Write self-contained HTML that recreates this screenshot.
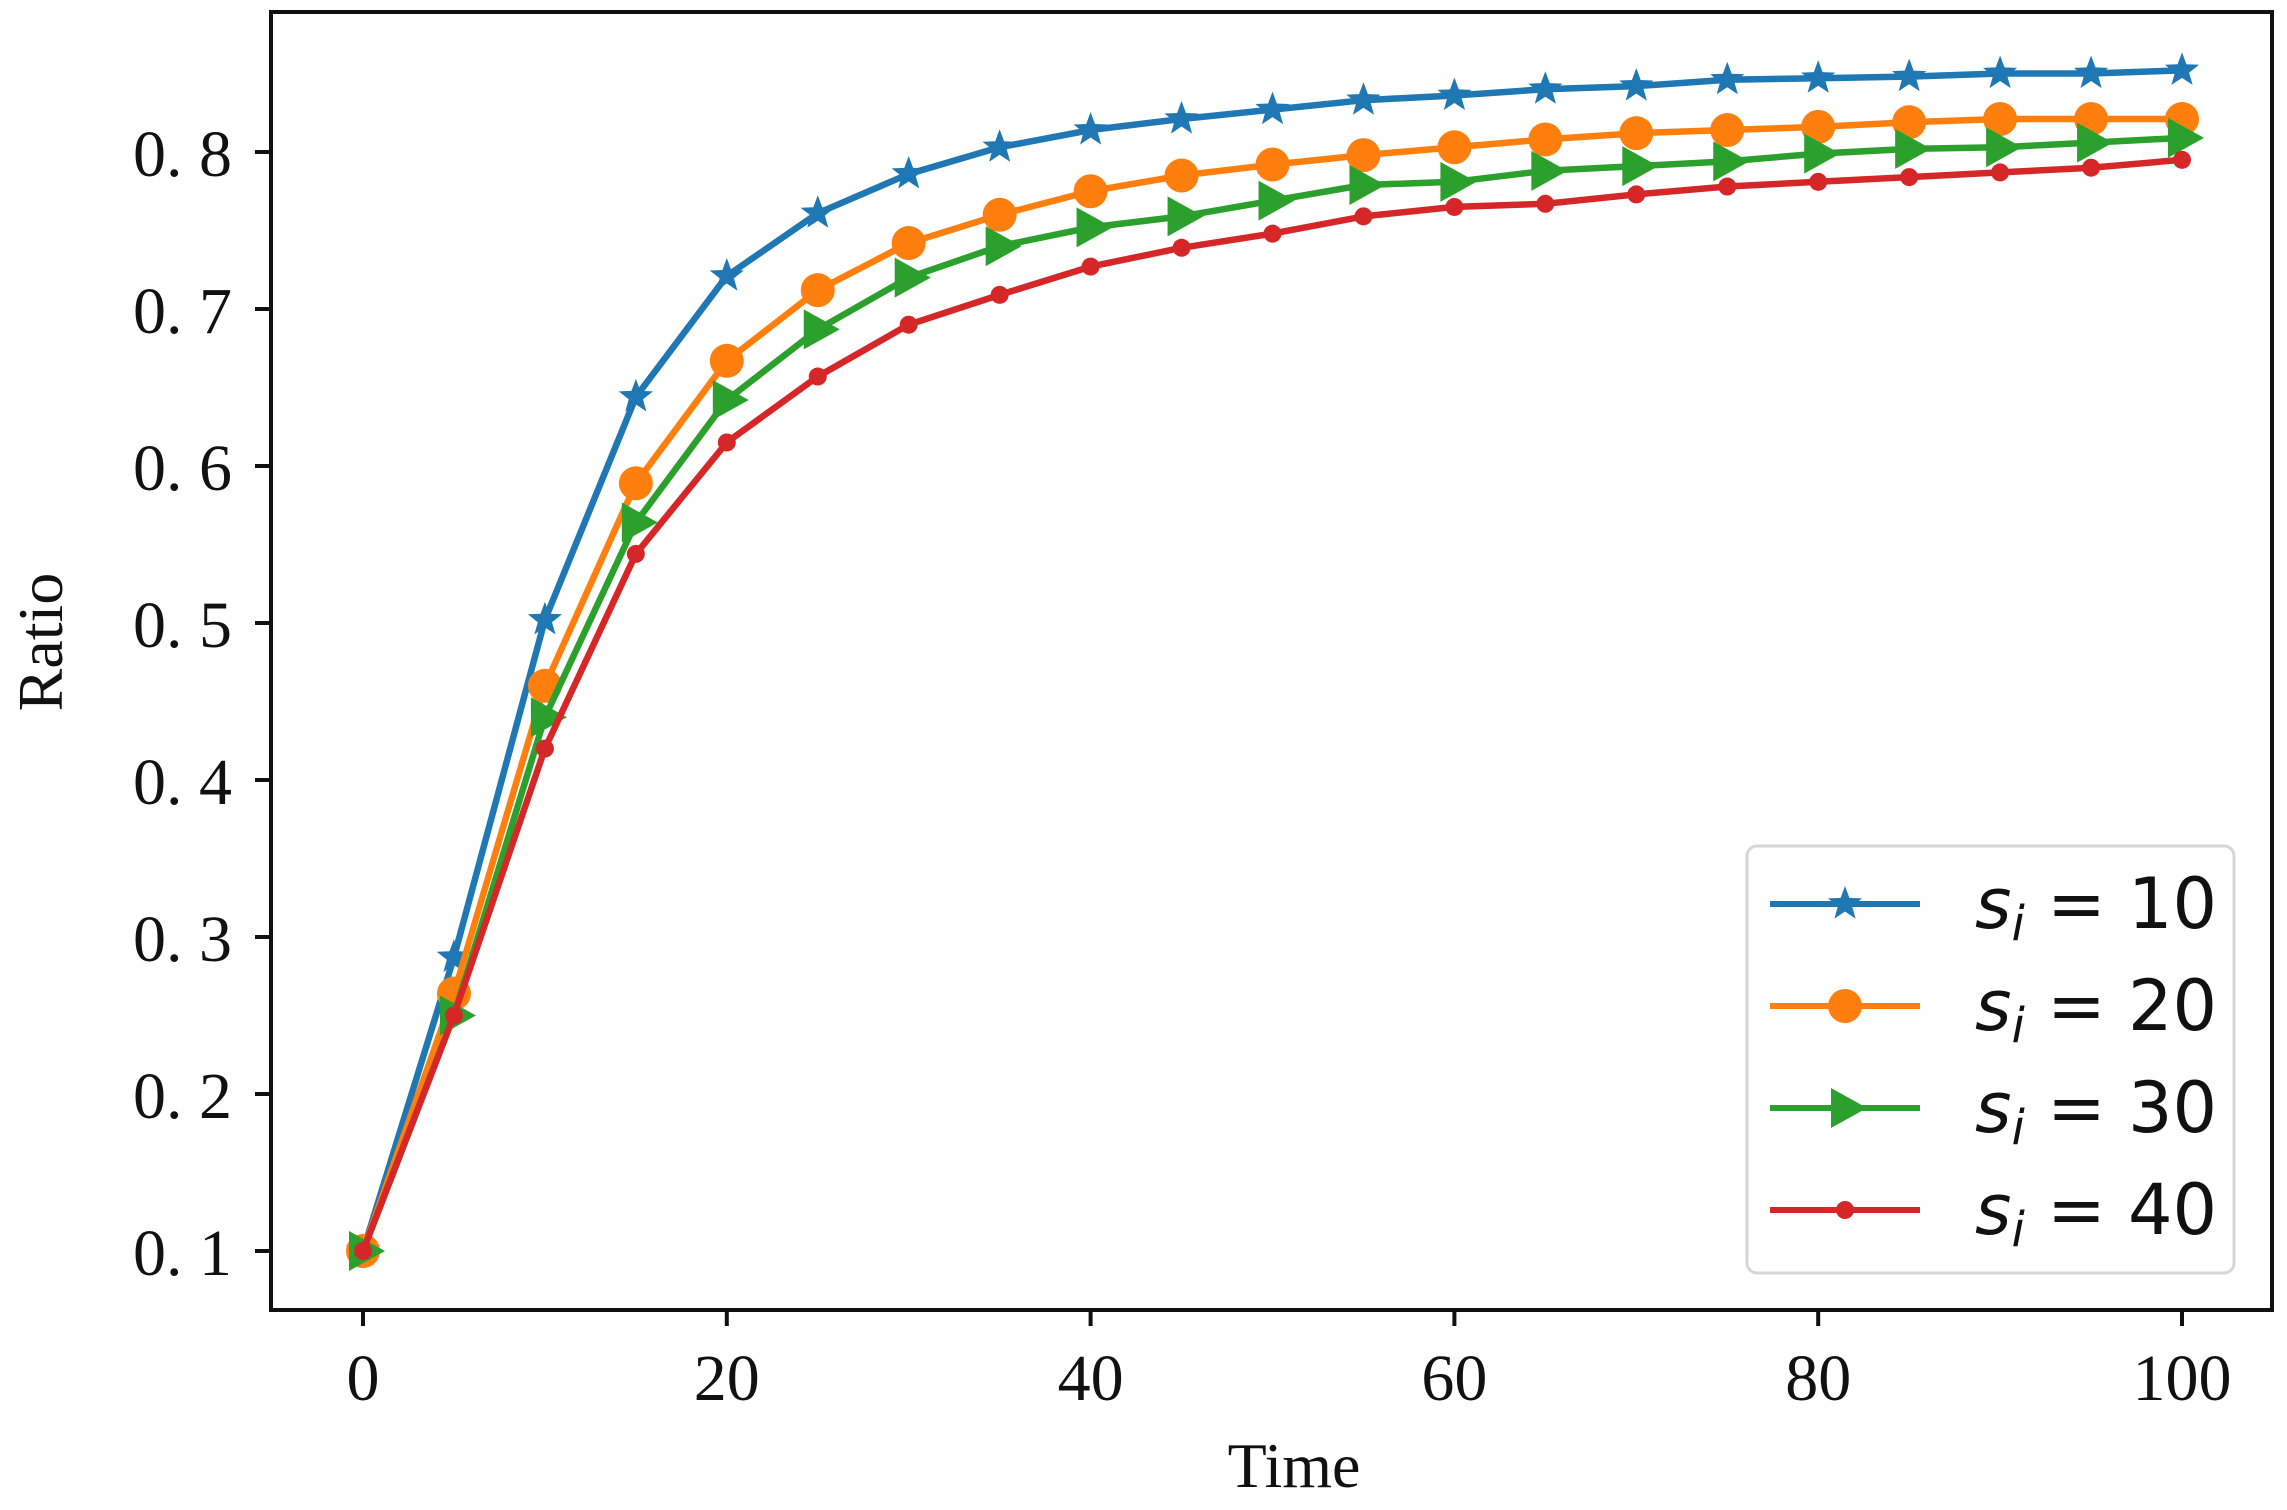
<!DOCTYPE html>
<html><head><meta charset="utf-8"><style>
html,body{margin:0;padding:0;background:#fff;}
svg{display:block;}
text{font-family:"Liberation Serif","DejaVu Serif",serif;fill:#111;}
.leg{font-family:"DejaVu Sans","Liberation Sans",sans-serif;}
</style></head><body>
<svg id="chart" width="2287" height="1510" viewBox="0 0 2287 1510" xmlns="http://www.w3.org/2000/svg">
<rect x="0" y="0" width="2287" height="1510" fill="#fff"/>
<g id="series"></g>
<g id="axes"></g>
<text x="1294" y="1487" font-size="64" text-anchor="middle">Time</text>
<text x="0" y="0" font-size="64" text-anchor="middle" transform="translate(62,642) rotate(-90)">Ratio</text>
<g id="legend"></g>
</svg>
<script>
const xValues = [0,5,10,15,20,25,30,35,40,45,50,55,60,65,70,75,80,85,90,95,100];
const s10 = [0.1,0.287,0.502,0.644,0.721,0.761,0.786,0.803,0.814,0.821,0.827,0.833,0.836,0.840,0.842,0.846,0.847,0.848,0.850,0.850,0.852];
const s20 = [0.1,0.264,0.460,0.589,0.667,0.712,0.742,0.760,0.775,0.785,0.792,0.798,0.803,0.808,0.812,0.814,0.816,0.819,0.821,0.821,0.821];
const s30 = [0.1,0.250,0.440,0.564,0.642,0.687,0.720,0.740,0.752,0.759,0.769,0.779,0.781,0.788,0.791,0.794,0.799,0.802,0.803,0.806,0.809];
const s40 = [0.1,0.250,0.420,0.544,0.615,0.657,0.690,0.709,0.727,0.739,0.748,0.759,0.765,0.767,0.773,0.778,0.781,0.784,0.787,0.790,0.795];
const xTicks = [0,20,40,60,80,100];
const yTicks = [0.1,0.2,0.3,0.4,0.5,0.6,0.7,0.8];
const seriesLabels = ["10","20","30","40"];

const NS = "http://www.w3.org/2000/svg";
const X0 = 363, X1 = 2182, Y01 = 1251, Y08 = 152;
function sx(v){ return X0 + (v - 0) * (X1 - X0) / 100; }
function sy(v){ return Y01 - (v - 0.1) * (Y01 - Y08) / 0.7; }
function mk(tag, attrs, parent){ const e = document.createElementNS(NS, tag); for (const k in attrs) e.setAttribute(k, attrs[k]); parent.appendChild(e); return e; }

const axes = document.getElementById('axes');
const frame = mk('rect', {x:271, y:12, width:2001, height:1298, fill:'none', stroke:'#111', 'stroke-width':4}, axes);


xTicks.forEach(t => {
  const ln = mk('line', {x1:sx(t), x2:sx(t), y1:1310, y2:1326, stroke:'#111', 'stroke-width':4}, axes);
  
  
  const tx = mk('text', {x:sx(t), y:1400, 'font-size':66, 'text-anchor':'middle'}, axes);
  tx.textContent = String(t);
  
  
});
yTicks.forEach(t => {
  const ln = mk('line', {x1:255, x2:271, y1:sy(t), y2:sy(t), stroke:'#111', 'stroke-width':4}, axes);
  
  
  const tx = mk('text', {x:232, y:sy(t)+24, 'font-size':66, 'text-anchor':'end'}, axes);
  tx.textContent = t.toFixed(1).replace('.', '. ');
  tx.setAttribute('xml:space', 'preserve');
  
  
});

const colors = ['#1f77b4','#ff7f0e','#2ca02c','#d62728'];
const kinds = ['star','circle','tri','dot'];
function marker(kind, x, y, c, parent){
  if (kind === 'circle') return mk('circle', {cx:x, cy:y, r:17, fill:c}, parent);
  if (kind === 'dot') return mk('circle', {cx:x, cy:y, r:9, fill:c}, parent);
  if (kind === 'tri') return mk('polygon', {points:`${x-14},${y-20} ${x+22},${y} ${x-14},${y+20}`, fill:c}, parent);
  let pts = [];
  for (let i = 0; i < 10; i++) { const r = i % 2 ? 7.5 : 18; const a = -Math.PI/2 + i*Math.PI/5; pts.push((x + r*Math.cos(a)).toFixed(1) + ',' + (y + r*Math.sin(a)).toFixed(1)); }
  return mk('polygon', {points:pts.join(' '), fill:c}, parent);
}
const sg = document.getElementById('series');
[s10, s20, s30, s40].forEach((arr, i) => {
  const g = mk('g', {}, sg);
  
  
  const d = arr.map((v, j) => (j ? 'L' : 'M') + sx(xValues[j]).toFixed(1) + ',' + sy(v).toFixed(1)).join(' ');
  const p = mk('path', {d:d, fill:'none', stroke:colors[i], 'stroke-width':6.5, 'stroke-linejoin':'round'}, g);
  
  
  arr.forEach((v, j) => {
    const m = marker(kinds[i], sx(xValues[j]), sy(v), colors[i], g);
    
    
  });
});

const lg = document.getElementById('legend');
const box = mk('rect', {x:1747, y:846, width:487, height:427, rx:10, fill:'#fff', 'fill-opacity':0.9, stroke:'#d6d6d6', 'stroke-width':3}, lg);


seriesLabels.forEach((lab, i) => {
  const y = 904 + i * 102;
  const g = mk('g', {}, lg);
  
  
  mk('line', {x1:1770, x2:1920, y1:y, y2:y, stroke:colors[i], 'stroke-width':6}, g);
  marker(kinds[i], 1845, y, colors[i], g);
  const t = mk('text', {x:1975, y:y+24, 'font-size':70, class:'leg'}, g);
  t.innerHTML = '<tspan font-style="italic">s</tspan><tspan font-style="italic" font-size="48" dy="12">i</tspan><tspan dy="-12"> = ' + lab + '</tspan>';
  
  
});
</script>
</body></html>
